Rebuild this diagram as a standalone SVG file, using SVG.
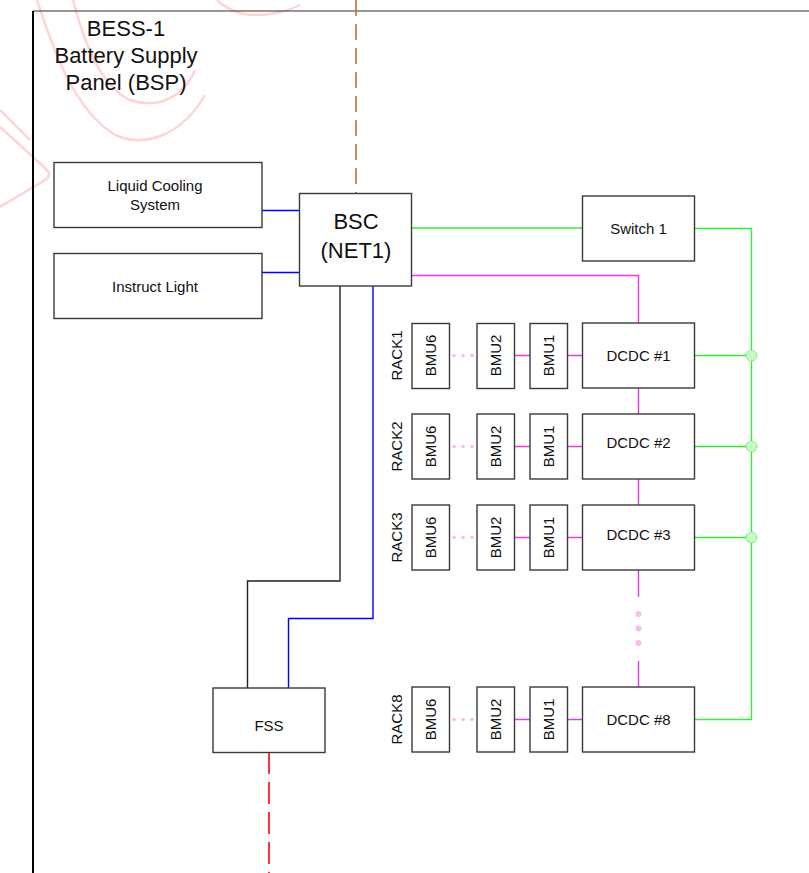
<svg xmlns="http://www.w3.org/2000/svg" width="809" height="873" viewBox="0 0 809 873">
<style>
.box{fill:#fff;stroke:#3a3a3a;stroke-width:1.4}
.t{font-family:"Liberation Sans",Arial,sans-serif;font-size:15px;fill:#111;text-anchor:middle}
.big{font-family:"Liberation Sans",Arial,sans-serif;font-size:22px;fill:#111;text-anchor:middle}
.g{fill:none;stroke:#33ee33;stroke-width:1.4}
.m{fill:none;stroke:#ee33ee;stroke-width:1.4}
.b{fill:none;stroke:#0000ff;stroke-width:1.4}
.k{fill:none;stroke:#222;stroke-width:1.4}
.wm{fill:none;stroke:#ffd4d4;stroke-width:2.5}
.pd{fill:#ffb8f0}
.jn{fill:#c8f8c8;stroke:#44ee44;stroke-width:1;stroke-dasharray:1.5 1}
</style>
<rect width="809" height="873" fill="#fff"/>
<g id="watermark">
<path class="wm" d="M37 0 C55 55 75 110 115 135 C150 150 185 130 205 95"/>
<path class="wm" d="M73 0 C85 45 100 85 130 100 C160 110 185 95 195 70"/>
<path class="wm" d="M217 0 C228 10 240 15 255 15 C275 15 290 10 300 5"/>
<path class="wm" d="M0 127 L45 168 Q53 175 45 180 L0 207"/>
<path class="wm" d="M0 110 L30 140"/>
</g>
<g id="frame">
<line x1="33" y1="11" x2="809" y2="11" stroke="#333" stroke-width="1.2"/>
<line x1="33" y1="11" x2="33" y2="873" stroke="#000" stroke-width="2"/>
<text class="big" x="126" y="36">BESS-1</text>
<text class="big" x="126" y="63">Battery Supply</text>
<text class="big" x="126" y="90">Panel (BSP)</text>
</g>
<g id="connectors">
<line x1="356" y1="0" x2="356" y2="193" stroke="#b87333" stroke-width="1.6" stroke-dasharray="16 8"/>
<line x1="269" y1="752" x2="269" y2="873" stroke="#ff3333" stroke-width="2" stroke-dasharray="22 8"/>
<path class="b" d="M262 210.5 H299 M262 272.5 H299"/>
<path class="g" d="M411 228 H582"/>
<path class="g" d="M695 228.5 H751.5 V719.5 H695"/>
<path class="g" d="M695 355.5 H751.5 M695 446.5 H751.5 M695 537.5 H751.5"/>
<path class="m" d="M411 275.5 H638.5 V323"/>
<path class="m" d="M638.5 388 V414 M638.5 479 V505 M638.5 570 V597 M638.5 661 V687"/>
<path class="k" d="M340 286 V581 H247.5 V688"/>
<path class="b" d="M373 286 V618.5 H288.5 V688"/>
<path class="m" d="M515 355.5 H530 M567 355.5 H582"/>
<path class="m" d="M515 446.5 H530 M567 446.5 H582"/>
<path class="m" d="M515 537.5 H530 M567 537.5 H582"/>
<path class="m" d="M515 719.5 H530 M567 719.5 H582"/>
<g class="pd">
<circle cx="454" cy="355.5" r="1.8"/><circle cx="463" cy="355.5" r="1.8"/><circle cx="472" cy="355.5" r="1.8"/>
<circle cx="454" cy="446.5" r="1.8"/><circle cx="463" cy="446.5" r="1.8"/><circle cx="472" cy="446.5" r="1.8"/>
<circle cx="454" cy="537.5" r="1.8"/><circle cx="463" cy="537.5" r="1.8"/><circle cx="472" cy="537.5" r="1.8"/>
<circle cx="454" cy="719.5" r="1.8"/><circle cx="463" cy="719.5" r="1.8"/><circle cx="472" cy="719.5" r="1.8"/>
<circle cx="638.5" cy="614" r="3"/><circle cx="638.5" cy="628.5" r="3"/><circle cx="638.5" cy="643" r="3"/>
</g>
<circle class="jn" cx="751.5" cy="355.5" r="5.5"/>
<circle class="jn" cx="751.5" cy="446.5" r="5.5"/>
<circle class="jn" cx="751.5" cy="537.5" r="5.5"/>
</g>
<g id="lcs"><rect class="box" x="54" y="162.5" width="208" height="65"/><text class="t" x="155" y="191">Liquid Cooling</text><text class="t" x="155" y="210">System</text></g>
<g id="light"><rect class="box" x="54" y="253.5" width="208" height="65"/><text class="t" x="155" y="292">Instruct Light</text></g>
<g id="bsc"><rect class="box" x="299.5" y="193.5" width="112" height="92.5"/><text class="big" x="356" y="229">BSC</text><text class="big" x="356" y="258">(NET1)</text></g>
<g id="switch1"><rect class="box" x="582.5" y="196" width="112" height="65"/><text class="t" x="638.5" y="234">Switch 1</text></g>
<g id="fss"><rect class="box" x="213" y="688" width="112" height="64.5"/><text class="t" x="269" y="731">FSS</text></g>
<g id="rack1">
<text class="t" transform="translate(401.5 355.5) rotate(-90)">RACK1</text>
<rect class="box" x="412" y="323.5" width="37.5" height="65"/><text class="t" transform="translate(435.5 355.5) rotate(-90)">BMU6</text>
<rect class="box" x="477" y="323.5" width="37.5" height="65"/><text class="t" transform="translate(501 355.5) rotate(-90)">BMU2</text>
<rect class="box" x="530" y="323.5" width="37.5" height="65"/><text class="t" transform="translate(554 355.5) rotate(-90)">BMU1</text>
<rect class="box" x="582.5" y="323" width="112" height="65"/><text class="t" x="638.5" y="360.5">DCDC #1</text>
</g>
<g id="rack2">
<text class="t" transform="translate(401.5 446.5) rotate(-90)">RACK2</text>
<rect class="box" x="412" y="414" width="37.5" height="65"/><text class="t" transform="translate(435.5 446.5) rotate(-90)">BMU6</text>
<rect class="box" x="477" y="414" width="37.5" height="65"/><text class="t" transform="translate(501 446.5) rotate(-90)">BMU2</text>
<rect class="box" x="530" y="414" width="37.5" height="65"/><text class="t" transform="translate(554 446.5) rotate(-90)">BMU1</text>
<rect class="box" x="582.5" y="414" width="112" height="65"/><text class="t" x="638.5" y="448">DCDC #2</text>
</g>
<g id="rack3">
<text class="t" transform="translate(401.5 537.5) rotate(-90)">RACK3</text>
<rect class="box" x="412" y="505" width="37.5" height="65"/><text class="t" transform="translate(435.5 537.5) rotate(-90)">BMU6</text>
<rect class="box" x="477" y="505" width="37.5" height="65"/><text class="t" transform="translate(501 537.5) rotate(-90)">BMU2</text>
<rect class="box" x="530" y="505" width="37.5" height="65"/><text class="t" transform="translate(554 537.5) rotate(-90)">BMU1</text>
<rect class="box" x="582.5" y="505" width="112" height="65"/><text class="t" x="638.5" y="540">DCDC #3</text>
</g>
<g id="rack8">
<text class="t" transform="translate(401.5 719.5) rotate(-90)">RACK8</text>
<rect class="box" x="412" y="687" width="37.5" height="65"/><text class="t" transform="translate(435.5 719.5) rotate(-90)">BMU6</text>
<rect class="box" x="477" y="687" width="37.5" height="65"/><text class="t" transform="translate(501 719.5) rotate(-90)">BMU2</text>
<rect class="box" x="530" y="687" width="37.5" height="65"/><text class="t" transform="translate(554 719.5) rotate(-90)">BMU1</text>
<rect class="box" x="582.5" y="687" width="112" height="65"/><text class="t" x="638.5" y="725">DCDC #8</text>
</g>
</svg>
